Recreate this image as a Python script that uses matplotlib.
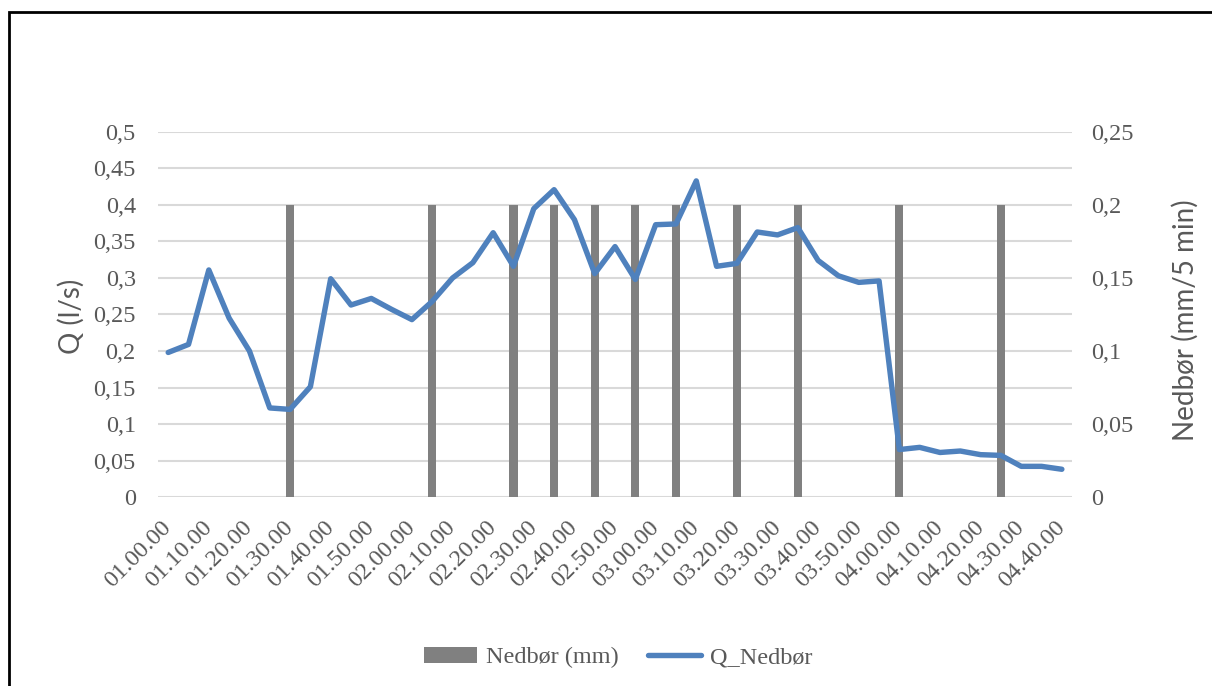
import matplotlib
matplotlib.use("Agg")
import matplotlib.pyplot as plt
from matplotlib.patches import Rectangle
from matplotlib.ticker import FuncFormatter, MultipleLocator

# ---- data ----
times = []
for h in range(1, 5):
    for m in range(0, 60, 5):
        times.append(f"{h:02d}.{m:02d}.00")
times = times[:45]  # 01.00.00 ... 04.40.00

q_nedbor = [0.198, 0.209, 0.311, 0.245, 0.200, 0.122, 0.120, 0.151, 0.299, 0.263,
            0.272, 0.257, 0.243, 0.268, 0.300, 0.321, 0.362, 0.316, 0.395, 0.421,
            0.380, 0.306, 0.343, 0.298, 0.373, 0.374, 0.433, 0.316, 0.320, 0.363,
            0.359, 0.369, 0.324, 0.303, 0.294, 0.296, 0.065, 0.068, 0.061, 0.063,
            0.058, 0.057, 0.042, 0.042, 0.038]

nedbor = [0, 0, 0, 0, 0, 0, 0.2, 0, 0, 0,
          0, 0, 0, 0.2, 0, 0, 0, 0.2, 0, 0.2,
          0, 0.2, 0, 0.2, 0, 0.2, 0, 0, 0.2, 0,
          0, 0.2, 0, 0, 0, 0, 0.2, 0, 0, 0,
          0, 0.2, 0, 0, 0]

# ---- styling ----
serif = ["Liberation Serif", "DejaVu Serif"]
sans = ["Lato", "DejaVu Sans"]
txt = "#595959"
grid_c = "#D9D9D9"
bar_c = "#808080"
line_c = "#4F81BD"
fs = 17.5

fig = plt.figure(figsize=(12.12, 6.86), dpi=100)
ax = fig.add_axes([0.1304, 0.2755, 0.7541, 0.5321])
ax2 = ax.twinx()

x = list(range(len(times)))

ax2.bar(x, nedbor, width=0.4, color=bar_c, zorder=2, label="Nedbør (mm)")
ax2.set_ylim(0, 0.25)
ax2.yaxis.set_major_locator(MultipleLocator(0.05))

ax.set_zorder(ax2.get_zorder() + 1)
ax.patch.set_visible(False)
ax.plot(x, q_nedbor, color=line_c, lw=3.9, solid_joinstyle="round",
        solid_capstyle="round", zorder=3, label="Q_Nedbør")
ax.set_ylim(0, 0.5)
ax.yaxis.set_major_locator(MultipleLocator(0.05))
ax.set_xlim(-0.5, len(times) - 0.5)

for v in [i * 0.05 for i in range(11)]:
    ax2.axhline(v / 2, color=grid_c, lw=1.5, zorder=1)

fmt = FuncFormatter(lambda v, p: ("%g" % round(v, 3)).replace(".", ","))
ax.yaxis.set_major_formatter(fmt)
ax2.yaxis.set_major_formatter(fmt)

ax.set_xticks(x[::2])
ax.set_xticklabels(times[::2], rotation=45, ha="right", va="center",
                   rotation_mode="anchor", family=serif, fontsize=fs, color=txt)
for a in (ax, ax2):
    for s in a.spines.values():
        s.set_visible(False)
    a.tick_params(length=0)
ax.tick_params(axis="x", pad=19.5)
ax.tick_params(axis="y", pad=16)
ax2.tick_params(axis="y", pad=14)
for lab in ax.get_yticklabels() + ax2.get_yticklabels():
    lab.set_family(serif)
    lab.set_fontsize(fs)
    lab.set_color(txt)

fig.text(0.059, 0.539, "Q (l/s)", rotation=90, ha="center", va="center",
         family=sans, fontsize=20, color=txt)
fig.text(0.978, 0.5335, "Nedbør (mm/5 min)", rotation=90, ha="center", va="center",
         family=sans, fontsize=20, color=txt)

h1, l1 = ax2.get_legend_handles_labels()
h2, l2 = ax.get_legend_handles_labels()
leg = fig.legend(h1 + h2, l1 + l2, loc="center", bbox_to_anchor=(0.51, 0.041),
                 ncol=2, frameon=False, prop={"family": serif, "size": fs},
                 handlelength=2.2, handleheight=0.6, columnspacing=1.2,
                 handletextpad=0.35)
for t in leg.get_texts():
    t.set_color(txt)

fig.patches.append(Rectangle((9 / 1212, -0.05), 1.2, (686 - 12) / 686 + 0.05,
                             transform=fig.transFigure, fill=False,
                             edgecolor="black", lw=2, clip_on=False))

fig.savefig("out.png", dpi=100)
